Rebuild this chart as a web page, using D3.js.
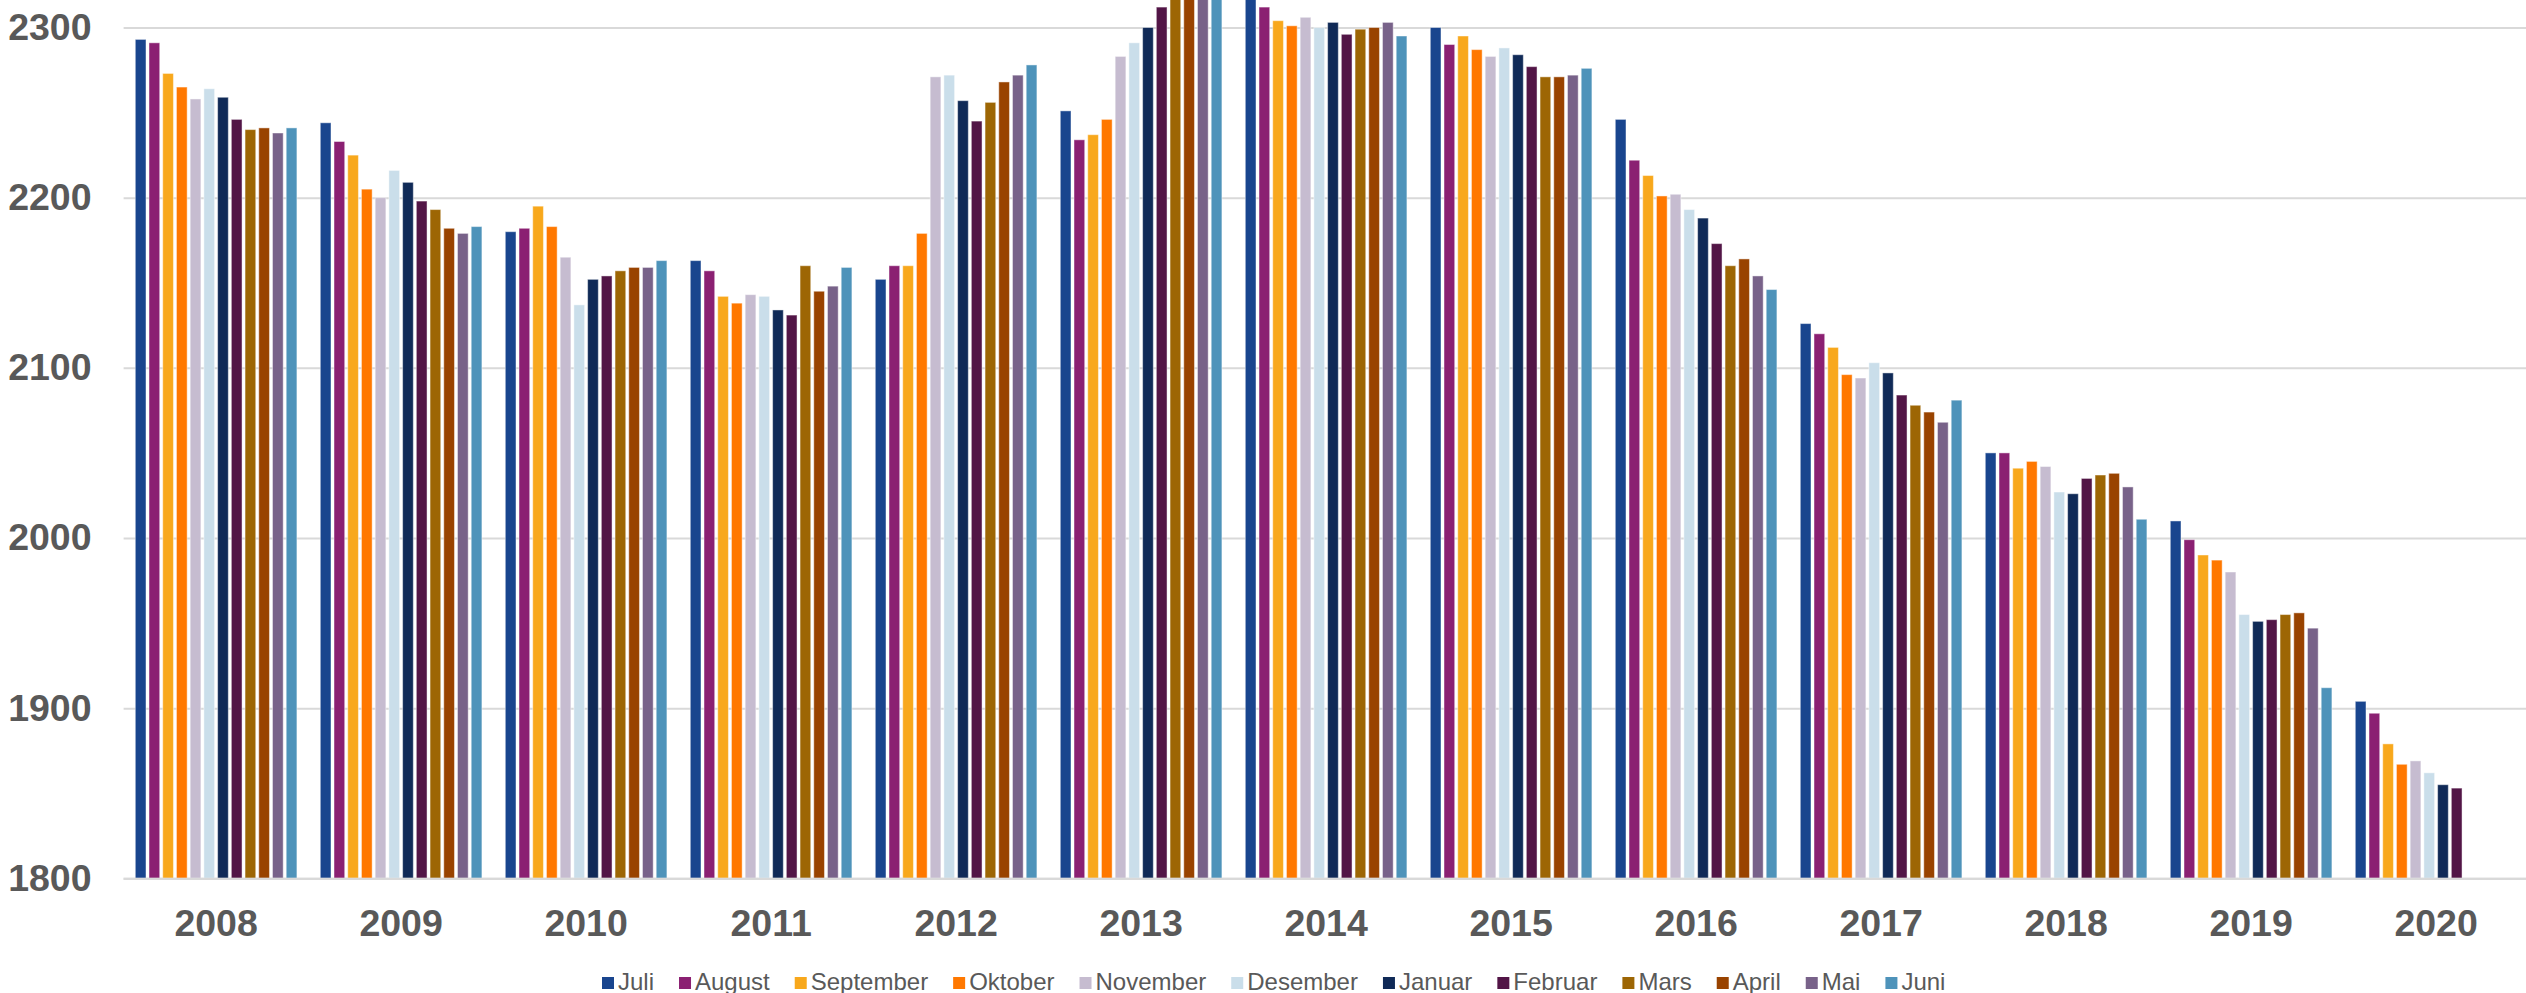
<!DOCTYPE html>
<html>
<head>
    <title>Bar Chart</title>
    <script src="https://d3js.org/d3.v7.min.js"></script>
    <style>
      body { margin: 0; background: #fff; }
    </style>
</head>
<body>
    <div id="chart"></div>
    <script>

const years = ["2008", "2009", "2010", "2011", "2012", "2013", "2014", "2015", "2016", "2017", "2018", "2019", "2020"];
const months = ["Juli", "August", "September", "Oktober", "November", "Desember", "Januar", "Februar", "Mars", "April", "Mai", "Juni"];
const colors = ["#19458e", "#8b2072", "#f8a81c", "#ff7800", "#c6bcd0", "#cadeea", "#102a57", "#521546", "#9d6604", "#994300", "#786289", "#4e93ba"];
const yTicks = [1800, 1900, 2000, 2100, 2200, 2300];

// one row per year, Juli .. Juni (2020 stops at Februar)
const v2008 = [2293, 2291, 2273, 2265, 2258, 2264, 2259, 2246, 2240, 2241, 2238, 2241];
const v2009 = [2244, 2233, 2225, 2205, 2200, 2216, 2209, 2198, 2193, 2182, 2179, 2183];
const v2010 = [2180, 2182, 2195, 2183, 2165, 2137, 2152, 2154, 2157, 2159, 2159, 2163];
const v2011 = [2163, 2157, 2142, 2138, 2143, 2142, 2134, 2131, 2160, 2145, 2148, 2159];
const v2012 = [2152, 2160, 2160, 2179, 2271, 2272, 2257, 2245, 2256, 2268, 2272, 2278];
const v2013 = [2251, 2234, 2237, 2246, 2283, 2291, 2300, 2312, 2320, 2322, 2324, 2326];
const v2014 = [2320, 2312, 2304, 2301, 2306, 2300, 2303, 2296, 2299, 2300, 2303, 2295];
const v2015 = [2300, 2290, 2295, 2287, 2283, 2288, 2284, 2277, 2271, 2271, 2272, 2276];
const v2016 = [2246, 2222, 2213, 2201, 2202, 2193, 2188, 2173, 2160, 2164, 2154, 2146];
const v2017 = [2126, 2120, 2112, 2096, 2094, 2103, 2097, 2084, 2078, 2074, 2068, 2081];
const v2018 = [2050, 2050, 2041, 2045, 2042, 2027, 2026, 2035, 2037, 2038, 2030, 2011];
const v2019 = [2010, 1999, 1990, 1987, 1980, 1955, 1951, 1952, 1955, 1956, 1947, 1912];
const v2020 = [1904, 1897, 1879, 1867, 1869, 1862, 1855, 1853];

const values = [v2008, v2009, v2010, v2011, v2012, v2013, v2014, v2015, v2016, v2017, v2018, v2019, v2020];

const width = 2526;
const height = 993;
const marginLeft = 123.6;
const plotRight = 2528.6;
const yBottom = 878.3;
const yTop = 27.5;
const textColor = "#595959";
const font = "'Liberation Sans', Arial, sans-serif";

const x0 = d3.scaleBand()
    .domain(years)
    .range([marginLeft, plotRight]);

const x1 = d3.scaleBand()
    .domain(months)
    .range([0, x0.bandwidth()])
    .paddingInner(0.22)
    .paddingOuter(0.852);

const y = d3.scaleLinear()
    .domain([1800, 2300])
    .range([yBottom, yTop]);

const color = d3.scaleOrdinal().domain(months).range(colors);

const svg = d3.create("svg")
    .attr("width", width)
    .attr("height", height)
    .attr("viewBox", [0, 0, width, height])
    .attr("style", `display: block; font-family: ${font};`);

// attach now so text can be measured for the legend
document.getElementById('chart').appendChild(svg.node());

// gridlines
svg.append("g")
    .attr("transform", `translate(${marginLeft},0)`)
    .call(d3.axisLeft(y).tickValues(yTicks).tickSize(-(plotRight - marginLeft)).tickFormat(""))
    .call(g => g.select(".domain").remove())
    .call(g => g.selectAll(".tick line").attr("stroke", "#d9d9d9").attr("stroke-width", 2));

// bars
const data = values.map((row, i) => ({ year: years[i], bars: row.map((v, j) => ({ month: months[j], value: v })) }));

svg.append("g")
  .selectAll("g")
  .data(data)
  .join("g")
    .attr("transform", d => `translate(${x0(d.year)},0)`)
  .selectAll("rect")
  .data(d => d.bars)
  .join("rect")
    .attr("x", d => x1(d.month))
    .attr("y", d => y(d.value))
    .attr("width", x1.bandwidth())
    .attr("height", d => y(1800) - y(d.value))
    .attr("fill", d => color(d.month))
    .attr("stroke", "#ffffff")
    .attr("stroke-opacity", 0.45)
    .attr("stroke-width", 1);

// base line
svg.append("line")
    .attr("x1", marginLeft)
    .attr("x2", plotRight)
    .attr("y1", y(1800) + 0.6)
    .attr("y2", y(1800) + 0.6)
    .attr("stroke", "#d9d9d9")
    .attr("stroke-width", 2.4);

// y tick labels
svg.append("g")
    .attr("transform", `translate(${marginLeft},0)`)
    .call(d3.axisLeft(y).tickValues(yTicks).tickSize(0).tickPadding(32).tickFormat(d3.format("d")))
    .call(g => g.select(".domain").remove())
    .call(g => g.selectAll("text")
        .attr("fill", textColor)
        .attr("font-family", font)
        .attr("font-size", 37.5)
        .attr("font-weight", "bold"));

// year labels
svg.append("g")
    .attr("transform", `translate(0,${yBottom})`)
    .call(d3.axisBottom(x0).tickSize(0).tickPadding(0))
    .call(g => g.select(".domain").remove())
    .call(g => g.selectAll("text")
        .attr("dy", null)
        .attr("y", 58)
        .attr("fill", textColor)
        .attr("font-family", font)
        .attr("font-size", 37.5)
        .attr("font-weight", "bold"));

// legend
const legend = svg.append("g")
    .attr("transform", "translate(602,0)")
    .attr("font-size", 24)
    .attr("fill", textColor);

let lx = 0;
months.forEach((m, i) => {
  const item = legend.append("g").attr("transform", `translate(${lx},0)`);
  item.append("rect")
      .attr("x", 0)
      .attr("y", 977)
      .attr("width", 12)
      .attr("height", 12)
      .attr("fill", colors[i]);
  const t = item.append("text")
      .attr("x", 16)
      .attr("y", 989.5)
      .text(m);
  lx += 16 + t.node().getComputedTextLength() + 25;
});

    </script>
</body>
</html>
